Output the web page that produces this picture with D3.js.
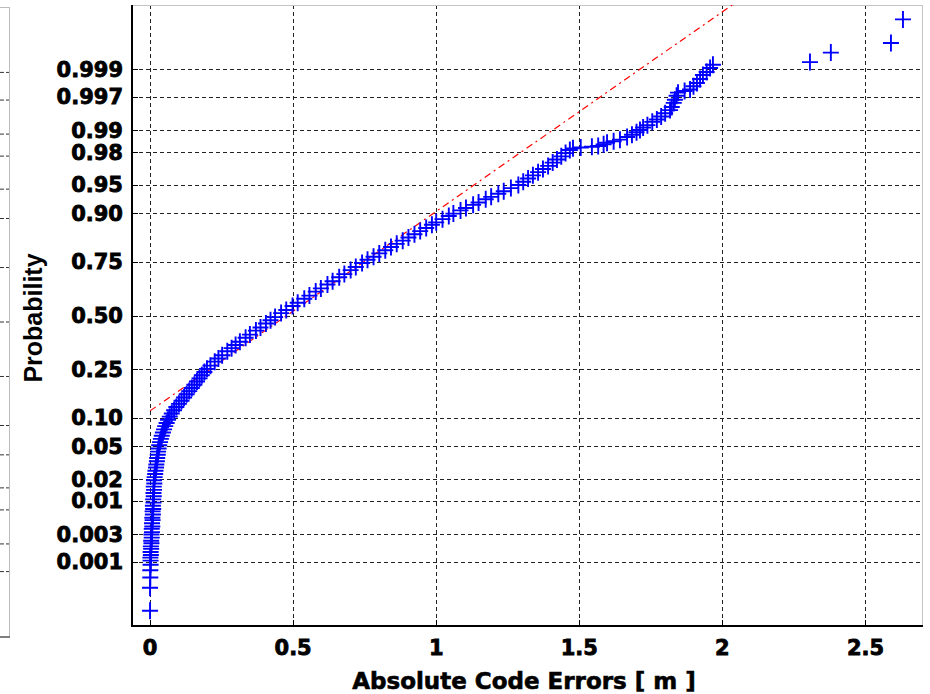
<!DOCTYPE html>
<html>
<head>
<meta charset="utf-8">
<script src="https://cdnjs.cloudflare.com/ajax/libs/d3/7.8.5/d3.min.js"></script>
<style>
body { margin: 0; background: #fff; }
svg { display: block; }
.tick-label { font-family: "DejaVu Sans", sans-serif; font-weight: bold; font-size: 21px; fill: #000; stroke: #000; stroke-width: 0.8px; }
.x-title { font-family: "DejaVu Sans", sans-serif; font-weight: bold; font-size: 23px; fill: #000; stroke: #000; stroke-width: 0.6px; }
.y-title { font-family: "Liberation Sans", Arial, sans-serif; font-weight: bold; font-size: 25px; fill: #000; }
</style>
</head>
<body>
<svg id="chart" width="930" height="694"></svg>
<script>
// sorted absolute code errors [m]
var errors = [
    0.000,0.000,0.001,0.001,0.002,0.002,0.001,0.003,0.002,0.004,
    0.003,0.005,0.004,0.006,0.005,0.007,0.006,0.008,0.007,0.009,
    0.008,0.010,0.009,0.011,0.010,0.012,0.011,0.013,0.012,0.014,
    0.013,0.015,0.014,0.016,
    0.018,0.019,0.021,0.022,0.024,0.025,0.027,0.028,0.030,0.032,
    0.035,0.038,0.041,0.045,0.049,0.053,0.058,0.063,0.069,0.076,
    0.084,0.092,0.101,0.110,0.119,0.128,0.137,0.146,0.155,0.164,
    0.173,0.181,0.190,0.199,
    0.211,0.226,0.239,0.252,0.270,0.285,0.299,0.314,0.334,0.349,
    0.370,0.386,0.405,0.421,0.437,0.458,0.476,0.498,0.516,0.539,
    0.557,0.579,0.597,0.620,0.638,0.661,0.679,0.701,0.719,0.741,
    0.760,0.781,0.801,0.822,0.842,0.862,0.883,0.903,0.924,0.944,
    0.965,0.985,1.000,1.022,1.044,1.060,1.085,1.104,1.129,1.148,
    1.173,1.192,1.217,1.236,1.261,1.287,1.304,1.321,1.338,1.356,
    1.373,1.391,1.407,1.422,1.437,1.452,
    1.467,1.478,1.505,1.544,1.566,1.585,1.597,1.620,1.642,1.667,
    1.684,1.700,1.712,1.723,1.738,1.755,1.771,1.786,1.800,1.817,
    1.823,1.830,1.834,1.840,1.845,1.868,1.887,1.899,1.911,1.922,
    1.932,1.945,1.957,1.967,
    2.306,2.379,2.589,2.631
];

// plotting probability of each error above
var probs = [
    0.000104,0.000313,0.000501,0.000687,0.000874,0.00104,0.00118,0.00131,0.00149,0.00169,
    0.00187,0.00212,0.00233,0.00264,0.00298,0.00326,0.00368,0.00402,0.00453,0.00508,
    0.00554,0.00621,0.00695,0.00755,0.00842,0.00939,0.01044,0.0116,0.01287,0.01426,
    0.01578,0.01743,0.01923,0.02118,
    0.0233,0.0256,0.0281,0.0307,0.0336,0.0367,0.0401,0.0436,0.0475,0.0516,
    0.0559,0.0606,0.0655,0.0708,0.0764,0.0823,0.0885,0.0951,0.1020,0.1093,
    0.1170,0.1251,0.1335,0.1423,0.1515,0.1611,0.1711,0.1814,0.1922,0.2033,
    0.2148,0.2266,0.2389,0.2514,
    0.2643,0.2810,0.2946,0.3085,0.3264,0.3409,0.3557,0.3707,0.3897,0.4052,
    0.4247,0.4404,0.4602,0.4761,0.4920,0.5120,0.5279,0.5478,0.5636,0.5832,
    0.5987,0.6179,0.6331,0.6517,0.6664,0.6844,0.6985,0.7157,0.7291,0.7454,
    0.7580,0.7700,0.7823,0.7939,0.8051,0.8159,0.8264,0.8365,0.8461,0.8554,
    0.8643,0.8729,0.8790,0.8869,0.8944,0.8997,0.9066,0.9115,0.9177,0.9222,
    0.9279,0.9319,0.9370,0.9406,0.9452,0.9495,0.9535,0.9573,0.9608,0.9641,
    0.9671,0.9699,0.9726,0.9750,0.9772,0.9793,
    0.9812,0.9821,0.9826,0.9830,0.9834,0.9842,0.9850,0.9857,0.9864,0.9875,
    0.9884,0.9893,0.9901,0.9909,0.9916,0.9925,0.9931,0.99379,0.99446,0.99506,
    0.99560,0.99621,0.99664,0.99711,0.99744,0.99760,0.99774,0.99801,0.99825,0.99851,
    0.99874,0.99889,0.99906,0.99918,
    0.99927,0.99952,0.99969,0.99990
];

var xTicks = [0, 0.5, 1, 1.5, 2, 2.5];
var xTickLabels = ["0", "0.5", "1", "1.5", "2", "2.5"];
var probTicks = [0.001, 0.003, 0.01, 0.02, 0.05, 0.10, 0.25, 0.50, 0.75, 0.90, 0.95, 0.98, 0.99, 0.997, 0.999];
var probTickLabels = ["0.001", "0.003", "0.01", "0.02", "0.05", "0.10", "0.25", "0.50", "0.75", "0.90", "0.95", "0.98", "0.99", "0.997", "0.999"];

// normal fit used for the red reference line
var refMu = 0.478;
var refSigma = 0.399;

// inverse normal cdf (Acklam), needed for the probability axis
function probit(p) {
    var a = [-3.969683028665376e+01, 2.209460984245205e+02, -2.759285104469687e+02, 1.383577518672690e+02, -3.066479806614716e+01, 2.506628277459239e+00];
    var b = [-5.447609879822406e+01, 1.615858368580409e+02, -1.556989798598866e+02, 6.680131188771972e+01, -1.328068155288572e+01];
    var c = [-7.784894002430293e-03, -3.223964580411365e-01, -2.400758277161838e+00, -2.549732539343734e+00, 4.374664141464968e+00, 2.938163982698783e+00];
    var d = [7.784695709041462e-03, 3.224671290700398e-01, 2.445134137142996e+00, 3.754408661907416e+00];
    var pLow = 0.02425, q, r;
    if (p < pLow) {
        q = Math.sqrt(-2 * Math.log(p));
        return (((((c[0]*q+c[1])*q+c[2])*q+c[3])*q+c[4])*q+c[5]) / ((((d[0]*q+d[1])*q+d[2])*q+d[3])*q+1);
    }
    if (p <= 1 - pLow) {
        q = p - 0.5; r = q * q;
        return (((((a[0]*r+a[1])*r+a[2])*r+a[3])*r+a[4])*r+a[5])*q / (((((b[0]*r+b[1])*r+b[2])*r+b[3])*r+b[4])*r+1);
    }
    q = Math.sqrt(-2 * Math.log(1 - p));
    return -(((((c[0]*q+c[1])*q+c[2])*q+c[3])*q+c[4])*q+c[5]) / ((((d[0]*q+d[1])*q+d[2])*q+d[3])*q+1);
}


function ProbPlot(svg) {
    var self = this;
    self.svg = svg;
    self.init();
}

ProbPlot.prototype.init = function() {
    var self = this;
    self.left = 132; self.right = 923;
    self.top = 5; self.bottom = 626;

    self.xScale = d3.scaleLinear()
        .domain([-0.063, 2.701])
        .range([self.left, self.right]);

    // y is linear in normal score, labelled with probabilities
    self.zScale = d3.scaleLinear()
        .domain([-3.9, 3.9])
        .range([self.bottom, self.top]);

    self.svg.append("defs").append("clipPath").attr("id", "plot-clip")
        .append("rect")
        .attr("x", self.left).attr("y", self.top)
        .attr("width", self.right - self.left)
        .attr("height", self.bottom - self.top);
};

// right edge of the neighbouring panel that got cropped into the figure
ProbPlot.prototype.drawNeighbour = function() {
    var self = this;
    var zScale2 = d3.scaleLinear().domain([-3.9, 3.9]).range([637, 7]);
    var g = self.svg.append("g");

    g.selectAll(".n-grid")
        .data(probTicks)
        .join("line")
        .attr("class", "n-grid")
        .attr("x1", 0).attr("x2", 9)
        .attr("y1", function(d) { return zScale2(probit(d)); })
        .attr("y2", function(d) { return zScale2(probit(d)); })
        .attr("stroke", "#333")
        .attr("stroke-dasharray", "4,2");

    g.append("line").attr("x1", 9.5).attr("x2", 9.5).attr("y1", 7).attr("y2", 637)
        .attr("stroke", "#bbb");
    g.append("line").attr("x1", 0).attr("x2", 10).attr("y1", 7.5).attr("y2", 7.5)
        .attr("stroke", "#bbb");
    g.append("line").attr("x1", 0).attr("x2", 10).attr("y1", 637).attr("y2", 637)
        .attr("stroke", "#555").attr("stroke-width", 1.5);
};

ProbPlot.prototype.drawAxes = function() {
    var self = this;
    var g = self.svg.append("g");

    // dashed grid
    g.selectAll(".vgrid")
        .data(xTicks)
        .join("line")
        .attr("class", "vgrid")
        .attr("x1", function(d) { return Math.round(self.xScale(d)) + 0.5; })
        .attr("x2", function(d) { return Math.round(self.xScale(d)) + 0.5; })
        .attr("y1", self.top).attr("y2", self.bottom)
        .attr("stroke", "#222")
        .attr("stroke-dasharray", "4,3");

    g.selectAll(".hgrid")
        .data(probTicks)
        .join("line")
        .attr("class", "hgrid")
        .attr("x1", self.left).attr("x2", self.right)
        .attr("y1", function(d) { return Math.round(self.zScale(probit(d))) + 0.5; })
        .attr("y2", function(d) { return Math.round(self.zScale(probit(d))) + 0.5; })
        .attr("stroke", "#222")
        .attr("stroke-dasharray", "4,3");

    // box: black left/bottom, light grey top/right
    g.append("line").attr("x1", self.left).attr("x2", self.right)
        .attr("y1", self.top + 0.5).attr("y2", self.top + 0.5).attr("stroke", "#c4c4c4");
    g.append("line").attr("x1", self.right - 0.5).attr("x2", self.right - 0.5)
        .attr("y1", self.top).attr("y2", self.bottom).attr("stroke", "#c4c4c4");
    g.append("line").attr("x1", self.left).attr("x2", self.left)
        .attr("y1", self.top).attr("y2", self.bottom + 1).attr("stroke", "#000").attr("stroke-width", 2);
    g.append("line").attr("x1", self.left).attr("x2", self.right)
        .attr("y1", self.bottom).attr("y2", self.bottom).attr("stroke", "#000").attr("stroke-width", 2);

    // inward tick marks
    g.selectAll(".ytick")
        .data(probTicks)
        .join("line")
        .attr("class", "ytick")
        .attr("x1", self.left).attr("x2", self.left + 6)
        .attr("y1", function(d) { return Math.round(self.zScale(probit(d))) + 0.5; })
        .attr("y2", function(d) { return Math.round(self.zScale(probit(d))) + 0.5; })
        .attr("stroke", "#000");

    g.selectAll(".xtick")
        .data(xTicks)
        .join("line")
        .attr("class", "xtick")
        .attr("x1", function(d) { return Math.round(self.xScale(d)) + 0.5; })
        .attr("x2", function(d) { return Math.round(self.xScale(d)) + 0.5; })
        .attr("y1", self.bottom).attr("y2", self.bottom - 6)
        .attr("stroke", "#000");

    // tick labels
    g.selectAll(".ylab")
        .data(probTicks)
        .join("text")
        .attr("class", "tick-label")
        .attr("x", 123)
        .attr("y", function(d) { return self.zScale(probit(d)); })
        .attr("dy", "0.36em")
        .attr("text-anchor", "end")
        .text(function(d, i) { return probTickLabels[i]; });

    g.selectAll(".xlab")
        .data(xTicks)
        .join("text")
        .attr("class", "tick-label")
        .attr("x", function(d) { return self.xScale(d); })
        .attr("y", 655)
        .attr("text-anchor", "middle")
        .text(function(d, i) { return xTickLabels[i]; });

    self.svg.append("text")
        .attr("class", "x-title")
        .attr("x", 524).attr("y", 689)
        .attr("text-anchor", "middle")
        .text("Absolute Code Errors [ m ]");

    self.svg.append("text")
        .attr("class", "y-title")
        .attr("transform", "translate(42,318) rotate(-90)")
        .attr("text-anchor", "middle")
        .text("Probability");
};

ProbPlot.prototype.drawData = function() {
    var self = this;
    var pts = errors.map(function(e, i) { return { x: e, p: probs[i] }; });
    console.log("points", pts.length, probs.length);

    var plot = self.svg.append("g").attr("clip-path", "url(#plot-clip)");

    // red dash-dot fit line, from min to max error, clipped by the axes
    var xMax = d3.max(errors), xMin = d3.min(errors);
    plot.append("line")
        .attr("x1", self.xScale(xMin))
        .attr("y1", self.zScale((xMin - refMu) / refSigma))
        .attr("x2", self.xScale(xMax))
        .attr("y2", self.zScale((xMax - refMu) / refSigma))
        .attr("stroke", "#ff0000")
        .attr("stroke-width", 1.2)
        .attr("stroke-dasharray", "7,4,2,4");

    plot.selectAll(".pt")
        .data(pts)
        .join("path")
        .attr("class", "pt")
        .attr("transform", function(d) {
            return "translate(" + self.xScale(d.x) + "," + self.zScale(probit(d.p)) + ")";
        })
        .attr("d", "M-8,0H8M0,-8.5V8.5")
        .attr("fill", "none")
        .attr("stroke", "#0000ff")
        .attr("stroke-width", 1.9);
};

var chart = new ProbPlot(d3.select("#chart"));
chart.drawNeighbour();
chart.drawAxes();
chart.drawData();
</script>
</body>
</html>
